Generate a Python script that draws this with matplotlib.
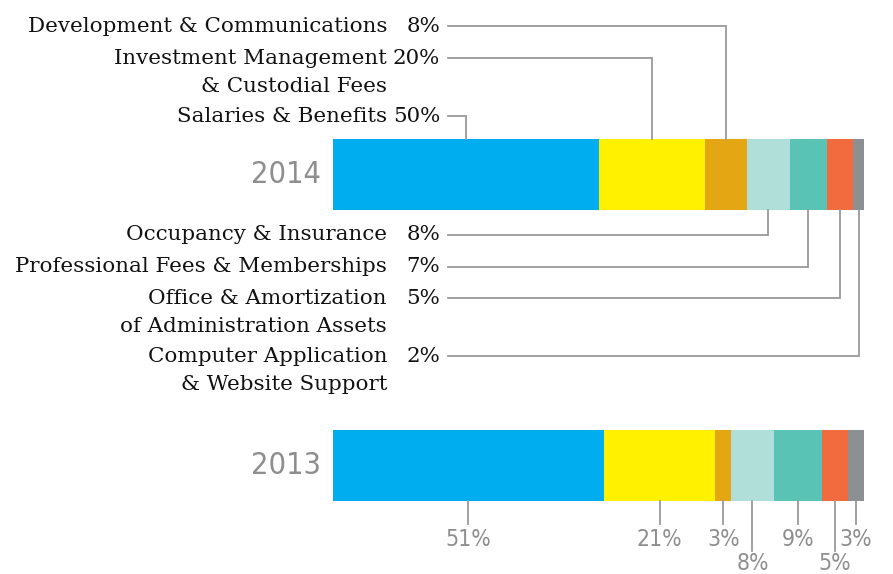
import numpy as np
import matplotlib.pyplot as plt

# expense categories, same order as the bar segments (left to right)
categories = ['Salaries & Benefits',
              'Investment Management\n& Custodial Fees',
              'Development & Communications',
              'Occupancy & Insurance',
              'Professional Fees & Memberships',
              'Office & Amortization\nof Administration Assets',
              'Computer Application\n& Website Support']
years = ['2014', '2013']
share_2014 = [50, 20, 8, 8, 7, 5, 2]
share_2013 = [51, 21, 3, 8, 9, 5, 3]
colors = ['#00AEEF', '#FFF100', '#E5A614', '#B0DED9', '#59C3B6', '#F26B3F', '#8C9092']

W, H = 893, 574
X0, XW = 333, 531          # bar extent in pixels

def px(x):
    return (x - X0) / XW * 100

LABEL_FONT = ['DejaVu Serif']
NUM_FONT = ['DejaVu Sans']
GREY_TXT = '#8E8E8E'
LINE_C = '#9A9A9A'

fig = plt.figure(figsize=(W / 100, H / 100), dpi=100)
ax = fig.add_axes([X0 / W, 0, XW / W, 1])
ax.set_xlim(0, 100)
ax.set_ylim(H, 0)
ax.axis('off')

bar_y = {'2014': 174.5, '2013': 465}
bar_h = 71

for year, vals in zip(years, [share_2014, share_2013]):
    vals = np.array(vals)
    lefts = np.concatenate([[0], np.cumsum(vals)[:-1]])
    ax.barh([bar_y[year]] * len(vals), vals, left=lefts, height=bar_h,
            color=colors, linewidth=0)
    ax.text(px(321), bar_y[year], year, ha='right', va='center',
            fontsize=22, color=GREY_TXT, family=NUM_FONT,
            fontstretch='condensed', fontweight='light')

# 2014 leader labels
vals = np.array(share_2014)
centers = np.cumsum(vals) - vals / 2
row_y = [116, 58, 26, 235, 267, 298, 356]
top = bar_y['2014'] - bar_h / 2
bot = bar_y['2014'] + bar_h / 2
for i, (cat, v, c) in enumerate(zip(categories, vals, centers)):
    y = row_y[i]
    y0 = top if y < top else bot
    ax.plot([c, c, px(448)], [y0, y, y], color=LINE_C, lw=1.3,
            solid_joinstyle='miter', clip_on=False)
    for j, line in enumerate(cat.split('\n')):
        ax.text(px(387), y + j * 28, line, ha='right', va='center',
                fontsize=15.4, color='#111111', family=LABEL_FONT)
    ax.text(px(440), y, f'{v}%', ha='right', va='center',
            fontsize=15.4, color='#111111', family=LABEL_FONT)

# 2013 tick labels below the bar
vals = np.array(share_2013)
centers = np.cumsum(vals) - vals / 2
bot = bar_y['2013'] + bar_h / 2
for i, (v, c) in enumerate(zip(vals, centers)):
    low = i in (3, 5)
    y_end = 551 if low else 524
    y_txt = 563 if low else 540
    ax.plot([c, c], [bot, y_end], color=LINE_C, lw=1.3, clip_on=False)
    ax.text(c, y_txt, f'{v}%', ha='center', va='center',
            fontsize=16.5, color=GREY_TXT, family=NUM_FONT,
            fontstretch='condensed', fontweight='light')

fig.savefig('out.png', dpi=100)
